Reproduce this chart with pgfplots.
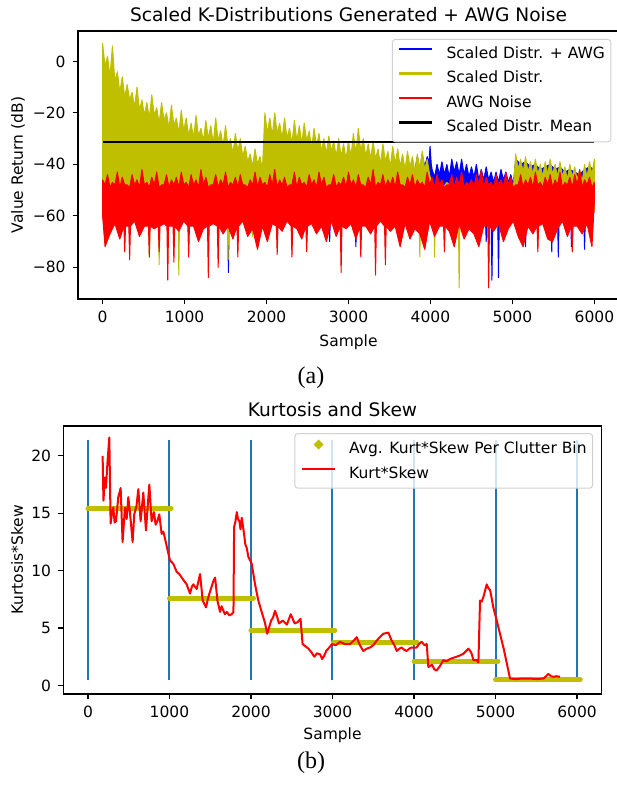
\documentclass[border=0pt]{standalone}
\usepackage{fontspec}
\setmainfont{DejaVu Sans}
\newfontfamily\capfont{Liberation Serif}
\usepackage{pgfplots}
\pgfplotsset{compat=1.18}
\definecolor{ycol}{rgb}{0.75,0.75,0}
\definecolor{c0}{HTML}{1F77B4}
\newcommand{\tfont}{\fontsize{7.75}{9}\selectfont}
\newcommand{\ttlfont}{\fontsize{9.3}{11}\selectfont}
\pgfplotsset{
  mpl/.style={
    scale only axis,
    axis line style={black, line width=0.62pt},
    tick align=outside,
    tick pos=left,
    major tick length=2.7pt,
    every tick/.style={black, line width=0.62pt},
    tick label style={font=\tfont},
    label style={font=\tfont},
    xtick={0,1000,2000,3000,4000,5000,6000},
    xticklabels={0,1000,2000,3000,4000,5000,6000},
    xmin=-300, xmax=6300,
    legend cell align=left,
    legend style={
      draw=black!18, fill=white, fill opacity=0.8, text opacity=1,
      rounded corners=1.5pt, line width=0.5pt,
      font=\tfont,
      inner xsep=3pt, inner ysep=3.5pt,
      row sep=4.85pt,
      nodes={inner sep=0pt, text height=5.8pt, text depth=1.6pt},
      /tikz/every odd column/.append style={column sep=6.5pt},
    },
  },
  lineleg/.style={legend image code/.code={\draw[#1, line width=1.15pt] (0pt,2.4pt) -- (16.5pt,2.4pt);}},
}
\begin{document}
\begin{tikzpicture}
\useasboundingbox (0,0) rectangle (308pt,-392.5pt);
% ---------------- (a) ----------------
\begin{axis}[mpl, name=ta, at={(39pt,-15.5pt)}, anchor=north west,
  width=270.5pt, height=134pt,
  ymin=-92.3, ymax=11.8,
  ytick={-80,-60,-40,-20,0}, yticklabels={−80,−60,−40,−20,0},
  xlabel={Sample}, xlabel style={at={(axis description cs:0.5,-0.16)}, anchor=center},
  ylabel={Value Return (dB)}, ylabel style={at={(axis description cs:-0.111,0.5)}, anchor=center},
  legend style={at={(1,1)}, anchor=north east, xshift=-3.8pt, yshift=-4pt},
]
% Scaled Distr. + AWG (blue)
\addplot[fill=blue, draw=blue, line width=0.5pt, line join=round, lineleg={blue}] coordinates {
(0,-8) (1000,-32) (1700,-40) (1950,-44) (1980,-32) (3000,-40) (3800,-44)
(3840,-37) (3870,-42) (3900,-36) (3930,-41) (3960,-37) (3980,-40) (3995,-33) (4010,-40)
(4020,-42) (4050,-45) (4080,-40) (4110,-44) (4140,-39) (4170,-44) (4200,-40) (4230,-45) (4260,-38) (4290,-43)
(4320,-39) (4350,-44) (4380,-38) (4410,-44) (4440,-40) (4470,-45) (4500,-41) (4530,-45) (4560,-40) (4590,-46)
(4620,-42) (4650,-46) (4680,-41) (4710,-46) (4740,-43) (4770,-47) (4800,-43) (4830,-47) (4860,-42) (4890,-46)
(4920,-43) (4950,-47) (4980,-44) (5010,-48)
(5040,-38) (5100,-40) (5160,-39) (5220,-41) (5280,-40) (5340,-42) (5400,-41) (5460,-40) (5520,-42) (5580,-41)
(5640,-43) (5700,-42) (5760,-43) (5820,-44) (5880,-42) (5940,-41) (5999,-42)
(5999,-58) (5970,-60) (5960,-70) (5950,-60) (5890,-60) (5880,-73) (5870,-60) (5730,-60) (5720,-72) (5710,-60)
(5570,-60) (5560,-76) (5550,-60) (5490,-60) (5480,-74) (5470,-60) (5170,-60) (5160,-72) (5150,-60)
(4840,-60) (4830,-84) (4820,-60) (4760,-60) (4750,-85) (4740,-60) (4690,-60) (4680,-70) (4670,-60)
(3100,-60) (3090,-72) (3080,-60) (2780,-60) (2770,-70) (2760,-60) (1545,-60) (1535,-82) (1525,-60) (0,-58)
} -- cycle;
\addlegendentry{Scaled Distr. + AWG}
% Scaled Distr. (yellow)
\addplot[fill=ycol, draw=ycol, line width=0.5pt, line join=round, lineleg={ycol}] coordinates {
(0,7) (30,-2) (60,2) (90,-6) (120,6) (150,-8) (180,-4) (210,-12) (240,-6) (270,-14) (300,-9) (330,-15)
(360,-12) (390,-18) (420,-10) (450,-19) (480,-15) (510,-21) (540,-16) (570,-22) (600,-13) (630,-21)
(660,-18) (690,-24) (720,-16) (750,-23) (780,-20) (810,-26) (840,-17) (870,-25) (900,-22) (930,-28)
(960,-19) (990,-27) (1020,-22) (1050,-29) (1080,-24) (1110,-30) (1140,-21) (1170,-29) (1200,-26) (1230,-31)
(1260,-23) (1290,-30) (1320,-25) (1350,-32) (1380,-22) (1410,-31) (1440,-27) (1470,-33) (1500,-25) (1530,-33)
(1560,-30) (1590,-36) (1620,-28) (1650,-35) (1680,-30) (1710,-37) (1740,-33) (1770,-39) (1800,-36) (1830,-41)
(1860,-34) (1890,-40) (1920,-37) (1950,-42) (1980,-20) (2010,-28) (2040,-22) (2070,-29) (2100,-20) (2130,-28)
(2160,-24) (2190,-30) (2220,-22) (2250,-30) (2280,-26) (2310,-32) (2340,-23) (2370,-31) (2400,-25) (2430,-32)
(2460,-24) (2490,-31) (2520,-27) (2550,-34) (2580,-26) (2610,-33) (2640,-28) (2670,-35) (2700,-30) (2730,-36)
(2760,-29) (2790,-35) (2820,-31) (2850,-37) (2880,-30) (2910,-37) (2940,-32) (2970,-38) (3000,-31) (3030,-37)
(3060,-28) (3090,-36) (3120,-26) (3150,-35) (3180,-30) (3210,-37) (3240,-32) (3270,-38) (3300,-31) (3330,-38)
(3360,-34) (3390,-40) (3420,-32) (3450,-39) (3480,-35) (3510,-41) (3540,-33) (3570,-40) (3600,-34) (3630,-41)
(3660,-36) (3690,-42) (3720,-35) (3750,-41) (3780,-37) (3810,-43) (3840,-36) (3870,-42) (3900,-35) (3930,-42)
(3960,-38) (3990,-44) (4020,-48) (4110,-51) (4200,-47) (4290,-50) (4380,-49) (4470,-51) (4560,-48) (4650,-50)
(4740,-49) (4830,-51) (4920,-48) (5010,-50)
(5040,-36) (5070,-42) (5100,-38) (5130,-43) (5160,-37) (5190,-43) (5220,-39) (5250,-44) (5280,-38) (5310,-44)
(5340,-40) (5370,-45) (5400,-39) (5430,-44) (5460,-38) (5490,-44) (5520,-40) (5550,-45) (5580,-39) (5610,-45)
(5640,-41) (5670,-46) (5700,-40) (5730,-45) (5760,-41) (5790,-46) (5820,-42) (5850,-47) (5880,-40) (5910,-45)
(5940,-39) (5970,-44) (5999,-38)
(5999,-58) (5860,-58) (5850,-66) (5840,-58) (4360,-58) (4350,-88) (4340,-58) (4060,-58) (4050,-76) (4040,-58)
(3880,-58) (3870,-76) (3860,-58) (1840,-58) (1830,-68) (1820,-58) (1540,-58) (1530,-77) (1520,-58)
(940,-58) (930,-83) (920,-58) (700,-58) (690,-79) (680,-58) (580,-58) (570,-76) (560,-58) (0,-58)
} -- cycle;
\addlegendentry{Scaled Distr.}
% AWG Noise (red)
\addplot[fill=red, draw=red, line width=0.5pt, line join=round, lineleg={red}] coordinates {
(0,-46) (30,-48) (60,-44) (90,-49) (120,-47) (150,-48) (180,-43) (210,-49) (240,-45) (270,-48)
(300,-48) (330,-49) (360,-44) (390,-48) (420,-46) (450,-49) (480,-42) (510,-48) (540,-47) (570,-49)
(600,-45) (630,-48) (660,-43) (690,-49) (720,-48) (750,-48) (780,-44) (810,-49) (840,-46) (870,-48)
(900,-45) (930,-49) (960,-43) (990,-48) (1020,-47) (1050,-49) (1080,-44) (1110,-48) (1140,-46) (1170,-49)
(1200,-42) (1230,-48) (1260,-45) (1290,-49) (1320,-48) (1350,-48) (1380,-44) (1410,-49) (1440,-46) (1470,-48)
(1500,-43) (1530,-49) (1560,-47) (1590,-48) (1620,-45) (1650,-49) (1680,-44) (1710,-48) (1740,-48) (1770,-49)
(1800,-46) (1830,-48) (1860,-43) (1890,-49) (1920,-45) (1950,-48) (1980,-47) (2010,-49) (2040,-44) (2070,-48)
(2100,-42) (2130,-49) (2160,-46) (2190,-48) (2220,-45) (2250,-49) (2280,-48) (2310,-48) (2340,-43) (2370,-49)
(2400,-45) (2430,-48) (2460,-47) (2490,-49) (2520,-44) (2550,-48) (2580,-46) (2610,-49) (2640,-43) (2670,-48)
(2700,-45) (2730,-49) (2760,-48) (2790,-48) (2820,-44) (2850,-49) (2880,-47) (2910,-48) (2940,-45) (2970,-49)
(3000,-43) (3030,-48) (3060,-46) (3090,-49) (3120,-44) (3150,-48) (3180,-48) (3210,-49) (3240,-45) (3270,-48)
(3300,-42) (3330,-49) (3360,-47) (3390,-48) (3420,-44) (3450,-49) (3480,-46) (3510,-48) (3540,-45) (3570,-49)
(3600,-43) (3630,-48) (3660,-48) (3690,-49) (3720,-45) (3750,-48) (3780,-44) (3810,-49) (3840,-46) (3870,-48)
(3900,-47) (3930,-49) (3960,-43) (3990,-48) (4020,-45) (4050,-49) (4080,-44) (4110,-48) (4140,-46) (4170,-49)
(4200,-48) (4230,-48) (4260,-44) (4290,-49) (4320,-45) (4350,-48) (4380,-43) (4410,-49) (4440,-47) (4470,-48)
(4500,-46) (4530,-49) (4560,-44) (4590,-48) (4620,-42) (4650,-49) (4680,-45) (4710,-48) (4740,-47) (4770,-49)
(4800,-44) (4830,-48) (4860,-46) (4890,-49) (4920,-43) (4950,-48) (4980,-45) (5010,-49) (5040,-48) (5070,-48)
(5100,-44) (5130,-49) (5160,-46) (5190,-48) (5220,-45) (5250,-49) (5280,-43) (5310,-48) (5340,-47) (5370,-49)
(5400,-45) (5430,-48) (5460,-44) (5490,-49) (5520,-46) (5550,-48) (5580,-43) (5610,-49) (5640,-47) (5670,-48)
(5700,-45) (5730,-49) (5760,-44) (5790,-48) (5820,-42) (5850,-49) (5880,-46) (5910,-48) (5940,-45) (5970,-49)
(5999,-47)
(5999,-55) (5970,-72) (5910,-63) (5850,-67) (5790,-64) (5740,-64) (5730,-74) (5720,-64) (5670,-68) (5610,-62)
(5550,-65) (5490,-70) (5430,-69) (5370,-63) (5320,-64) (5310,-74) (5300,-64) (5250,-67) (5190,-64) (5130,-72)
(5070,-68) (5010,-62) (4950,-65) (4890,-70) (4830,-63) (4770,-66) (4720,-64) (4710,-88) (4700,-64) (4650,-64)
(4590,-72) (4530,-67) (4470,-65) (4410,-69) (4350,-63) (4290,-72) (4230,-66) (4180,-64) (4170,-74) (4160,-64)
(4110,-64) (4050,-68) (3990,-62) (3930,-73) (3870,-67) (3810,-65) (3750,-69) (3690,-63) (3630,-72) (3570,-64)
(3510,-66) (3460,-64) (3450,-79) (3440,-64) (3390,-62) (3340,-64) (3330,-83) (3320,-64) (3270,-67) (3210,-64)
(3160,-64) (3150,-76) (3140,-64) (3090,-69) (3030,-63) (2970,-65) (2920,-64) (2910,-82) (2900,-64) (2850,-68)
(2790,-62) (2730,-70) (2670,-64) (2610,-67) (2550,-63) (2500,-64) (2490,-74) (2480,-64) (2430,-69) (2370,-65)
(2320,-64) (2310,-76) (2300,-64) (2250,-62) (2190,-66) (2140,-64) (2130,-75) (2120,-64) (2070,-63) (2010,-70)
(1950,-64) (1890,-73) (1830,-65) (1770,-68) (1710,-62) (1660,-64) (1650,-76) (1640,-64) (1590,-69) (1530,-64)
(1470,-67) (1420,-64) (1410,-80) (1400,-64) (1350,-63) (1300,-64) (1290,-84) (1280,-64) (1230,-65) (1170,-70)
(1110,-64) (1060,-64) (1050,-76) (1040,-64) (990,-62) (930,-66) (880,-64) (870,-78) (860,-64) (805,-64)
(795,-85) (785,-64) (750,-63) (700,-64) (690,-74) (680,-64) (630,-65) (580,-64) (570,-76) (560,-64)
(510,-64) (450,-68) (390,-62) (340,-64) (330,-77) (320,-64) (280,-64) (270,-74) (260,-64) (210,-69)
(150,-63) (90,-67) (30,-72) (0,-60)
} -- cycle;
\addlegendentry{AWG Noise}
% Mean
\addplot[black, line width=1.15pt, lineleg={black}] coordinates {(0,-31.2) (5999,-31.2)};
\addlegendentry{Scaled Distr. Mean}
\end{axis}
\node[anchor=base, font=\ttlfont] at ([yshift=4.5pt]ta.north) {Scaled K-Distributions Generated + AWG Noise};
% ---------------- (b) ----------------
\begin{axis}[mpl, name=tb, at={(31.75pt,-213pt)}, anchor=north west,
  width=269pt, height=134pt,
  ymin=-0.75, ymax=22.6,
  ytick={0,5,10,15,20}, yticklabels={0,5,10,15,20},
  xlabel={Sample}, xlabel style={at={(axis description cs:0.5,-0.153)}, anchor=center},
  ylabel={Kurtosis*Skew}, ylabel style={at={(axis description cs:-0.0864,0.5)}, anchor=center},
  legend style={at={(1,1)}, anchor=north east, xshift=-4.2pt, yshift=-3.5pt},
]
\addplot[c0, line width=1pt, unbounded coords=jump, forget plot] coordinates {
(0,0.5) (0,21.4) (0,nan) (1000,0.5) (1000,21.4) (1000,nan) (2000,0.5) (2000,21.4) (2000,nan)
(3000,0.5) (3000,21.4) (3000,nan) (4000,0.5) (4000,21.4) (4000,nan) (5000,0.5) (5000,21.4) (5000,nan)
(6000,0.5) (6000,21.4)
};
\addplot[ycol, line width=2.5pt, line cap=round, unbounded coords=jump,
  legend image code/.code={\fill[ycol] (8.25pt,2.4pt) circle (0.75pt);}] coordinates {
(0,15.4) (1020,15.4) (1020,nan) (1000,7.6) (2030,7.6) (2030,nan) (2000,4.8) (3030,4.8) (3030,nan)
(3010,3.7) (4040,3.7) (4040,nan) (4000,2.1) (5030,2.1) (5030,nan) (5000,0.5) (6040,0.5)
};
\addlegendentry{Avg. Kurt*Skew Per Clutter Bin}
\addplot[red, line width=1pt, line join=round, lineleg={red}] coordinates {
(180,20.0) (190,16.1) (209,18.1) (221,17.2) (240,19.5) (262,21.6) (278,14.1) (295,15.0) (311,15.5) (327,14.2)
(344,14.3) (372,16.4) (401,17.2) (425,12.5) (454,15.5) (475,14.5) (495,16.4) (515,15.1) (548,12.5) (568,14.9)
(595,15.6) (618,17.1) (646,14.3) (679,16.8) (712,13.5) (735,15.8) (753,17.5) (781,14.3) (810,15.1) (830,14.0)
(851,14.3) (875,14.9) (904,13.2) (925,13.4) (945,12.8) (986,11.5) (1006,10.9) (1047,10.6) (1088,9.9) (1120,9.7)
(1150,9.4) (1180,9.1) (1211,8.8) (1252,8.0) (1275,8.6) (1293,8.8) (1334,8.4) (1375,9.7) (1408,7.4) (1449,6.8)
(1470,7.5) (1490,8.0) (1539,9.1) (1560,9.4) (1588,7.4) (1621,6.4) (1640,6.9) (1662,6.5) (1680,6.2) (1703,6.4)
(1735,6.1) (1764,6.2) (1785,6.4) (1793,13.8) (1810,14.3) (1826,15.1) (1840,14.5) (1858,14.3) (1872,13.6) (1887,14.6)
(1915,13.2) (1930,12.3) (1947,12.0) (1968,11.2) (2009,10.6) (2050,8.8) (2090,7.4) (2131,6.4) (2170,5.5) (2199,4.5)
(2247,5.65) (2270,5.9) (2295,6.5) (2320,6.0) (2343,5.4) (2391,5.65) (2440,5.3) (2488,6.2) (2536,5.4) (2570,5.5)
(2608,5.8) (2633,3.6) (2670,3.4) (2705,3.2) (2740,2.9) (2777,2.5) (2810,2.8) (2849,2.7) (2873,2.3) (2900,2.6)
(2922,3.0) (2960,3.3) (2994,3.6) (3040,3.5) (3092,3.8) (3150,3.6) (3215,3.6) (3260,3.9) (3297,4.2) (3337,3.5)
(3378,3.0) (3420,3.2) (3460,3.3) (3500,3.5) (3542,3.9) (3580,4.2) (3624,4.5) (3685,4.6) (3726,3.9) (3760,3.5)
(3788,3.0) (3820,3.2) (3849,3.3) (3880,3.1) (3910,3.0) (3940,3.2) (3972,3.3) (4033,3.3) (4060,3.6) (4094,3.8)
(4130,3.5) (4156,3.6) (4176,1.6) (4220,1.8) (4250,1.4) (4278,1.3) (4320,1.7) (4360,2.2) (4400,2.1) (4442,2.3)
(4480,2.4) (4524,2.5) (4560,2.6) (4605,2.75) (4640,3.0) (4667,3.2) (4690,3.0) (4708,2.75) (4728,2.2) (4769,2.2)
(4790,2.0) (4810,7.4) (4830,7.3) (4851,7.7) (4870,8.2) (4892,8.8) (4910,8.5) (4933,8.3) (4950,7.7) (4973,6.8)
(5015,5.65) (5100,3.2) (5178,0.6) (5250,0.55) (5330,0.6) (5423,0.6) (5500,0.55) (5587,0.6) (5620,0.8) (5648,1.0)
(5680,0.8) (5710,0.75) (5750,0.8) (5791,0.75)
};
\addlegendentry{Kurt*Skew}
\end{axis}
\node[anchor=base, font=\ttlfont] at ([yshift=4.75pt]tb.north) {Kurtosis and Skew};
\node[anchor=base, font=\capfont\fontsize{12}{14}\selectfont] at (155.5pt,-191.5pt) {(a)};
\node[anchor=base, font=\capfont\fontsize{12}{14}\selectfont] at (155.5pt,-384pt) {(b)};
\end{tikzpicture}
\end{document}
